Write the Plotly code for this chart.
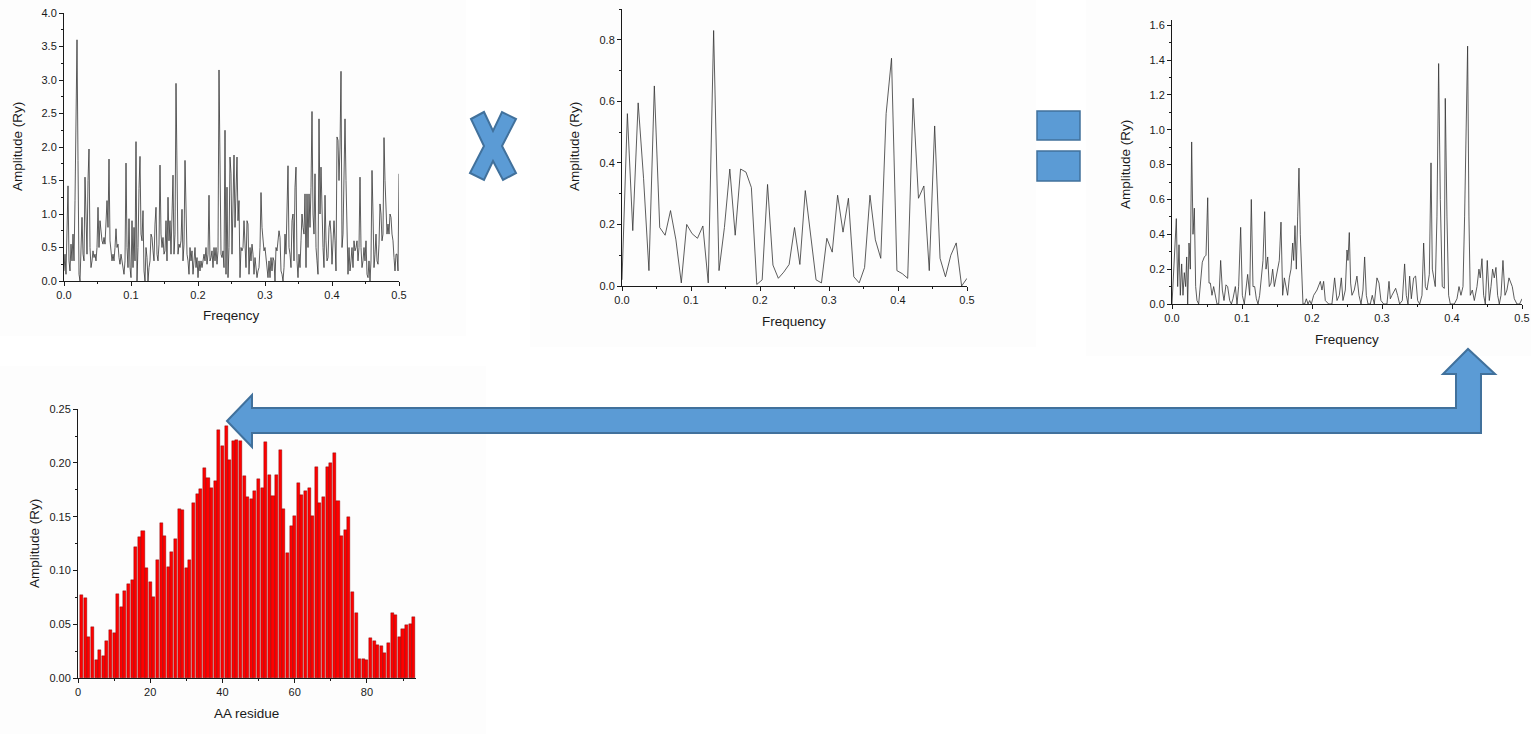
import numpy as np
import plotly.graph_objects as go

W, H = 1531, 734

# ---------------- data ----------------
# Spectrum of the sequence (bin step 1/670)
spec_a_step = 1 / 670
spec_a = [
    0.15, 0.4, 0.1, 0.6, 1.42, 0.3, 0.15, 0.55, 0.3, 0.7,
    0.3, 1.2, 2.4, 3.6, 1.8, 0.1, 0.0, 0.7, 0.95, 0.4,
    0.3, 1.55, 1.1, 0.4, 1.5, 1.97, 0.5, 0.2, 0.3, 0.45,
    0.35, 0.4, 0.3, 0.5, 1.1, 0.5, 0.9, 0.7, 0.6, 0.55,
    0.65, 0.55, 0.9, 1.2, 0.8, 1.82, 0.6, 0.45, 0.3, 0.4,
    0.3, 0.5, 0.78, 0.5, 0.55, 0.35, 0.25, 0.4, 0.3, 0.15,
    0.1, 0.3, 1.76, 0.5, 0.2, 0.93, 0.2, 0.05, 0.9, 0.2,
    0.8, 0.3, 2.08, 0.0, 0.5, 1.38, 1.86, 0.7, 0.6, 1.05,
    0.15, 0.0, 0.5, 0.35, 0.0, 0.2, 0.3, 0.7, 0.65, 0.45,
    0.3, 0.85, 1.1, 0.4, 0.3, 0.55, 1.73, 0.7, 0.5, 0.65,
    0.4, 0.45, 0.9, 0.3, 1.25, 0.6, 0.9, 0.4, 1.2, 1.58,
    0.4, 0.7, 2.95, 2.0, 0.4, 0.55, 0.5, 0.6, 1.07, 0.3,
    0.55, 1.8, 0.7, 0.4, 0.3, 0.1, 0.5, 0.3, 0.45, 0.1,
    0.3, 0.5, 0.2, 0.35, 0.05, 0.3, 0.15, 0.3, 0.2, 0.35,
    0.4, 0.3, 0.5, 0.25, 0.4, 1.28, 0.3, 0.35, 0.45, 0.2,
    0.5, 0.3, 0.5, 0.25, 0.45, 3.15, 1.2, 0.4, 0.35, 0.45,
    0.2, 2.25, 0.1, 1.4, 0.05, 0.5, 1.85, 1.6, 0.4, 1.5,
    1.88, 0.8, 1.2, 1.85, 0.9, 1.2,
    0.05, 0.5, 0.45, 0.5, 0.9, 0.5, 0.2, 0.9, 0.85, 0.1,
    0.5, 0.3, 0.55, 0.4, 0.1, 0.35, 0.15, 0.05, 0.15, 0.2,
    0.5, 1.32, 0.8, 0.6, 0.45, 0.5, 0.3, 0.1, 0.05, 0.3,
    0.05, 0.35, 0.15, 0.35, 0.3, 0.0, 0.5, 0.45, 0.6, 0.75,
    0.65, 0.15, 0.1, 0.0, 0.2, 0.7, 0.4, 0.9, 1.72, 0.5,
    0.4, 0.2, 0.9, 1.0, 0.3, 1.4, 1.7, 0.3, 0.05, 0.4,
    0.2, 0.6, 1.0, 0.8, 0.7, 1.3, 0.2, 1.3, 0.5, 1.3,
    0.8, 1.4, 2.53, 1.0, 0.7, 1.6, 0.5, 0.3, 0.1, 2.42,
    1.0, 1.7, 0.9, 0.5, 0.2, 1.28, 0.6, 0.3, 0.35, 0.8,
    0.9, 0.7, 0.25, 0.5, 0.9, 0.6, 0.15, 2.15, 2.1, 1.5,
    2.0, 3.13, 0.5, 0.7, 1.5, 2.42, 1.5, 0.5, 0.1, 0.5,
    0.15, 0.3, 0.5, 0.2, 0.6, 0.45, 0.5, 0.6, 0.3, 0.5,
    1.55, 0.5, 0.2, 0.3, 0.5, 0.3, 0.6, 0.1, 0.05, 0.3,
    0.0, 0.3, 1.65, 1.0, 0.2, 0.4, 0.7, 0.3, 0.25, 0.55,
    1.15, 1.0, 0.6, 0.7, 2.14, 1.5, 0.9, 0.7, 0.85, 0.7,
    1.0, 0.95, 0.7, 0.6, 0.35, 0.15, 0.4, 0.4, 0.15, 1.6,
]

# Spectrum of the second profile (bin step 1/128)
spec_b_step = 1 / 128
spec_b = [
    0.02, 0.56, 0.18, 0.595, 0.35, 0.05, 0.65, 0.19, 0.165, 0.245,
    0.15, 0.01, 0.20, 0.17, 0.155, 0.195, 0.01, 0.83, 0.05, 0.19,
    0.38, 0.165, 0.38, 0.37, 0.32, 0.005, 0.02, 0.33, 0.068, 0.025,
    0.045, 0.07, 0.19, 0.07, 0.31, 0.17, 0.02, 0.01, 0.155, 0.11,
    0.295, 0.175, 0.285, 0.03, 0.01, 0.06, 0.295, 0.15, 0.09, 0.56,
    0.74, 0.05, 0.04, 0.025, 0.61, 0.285, 0.325, 0.05, 0.52, 0.09,
    0.03, 0.10, 0.14, 0.0, 0.025,
]

# Cross-spectrum (product)
spec_c_freq = [
    0.0, 0.0062, 0.0081, 0.0100, 0.0119, 0.0138, 0.0157, 0.0176, 0.0195, 0.0210,
    0.0224, 0.0243, 0.0262, 0.0281, 0.0300, 0.0319, 0.0338, 0.0357, 0.0381, 0.0405,
    0.0433, 0.0462, 0.0486, 0.0510, 0.0529, 0.0548, 0.0571, 0.0595, 0.0619, 0.0643,
    0.0667, 0.0695, 0.0719, 0.0743, 0.0771, 0.0795, 0.0824, 0.0848, 0.0871, 0.0905,
    0.0929, 0.0952, 0.0981, 0.1005, 0.1033, 0.1057, 0.1081, 0.1110, 0.1133, 0.1157,
    0.1181, 0.1205, 0.1229, 0.1252, 0.1281, 0.1300, 0.1324, 0.1343, 0.1367, 0.1390,
    0.1414, 0.1438, 0.1462, 0.1486, 0.1510, 0.1533, 0.1557, 0.1581, 0.1605, 0.1629,
    0.1652, 0.1676, 0.1700, 0.1724, 0.1738, 0.1757, 0.1776, 0.1795, 0.1814, 0.1833,
    0.1852, 0.1871, 0.1895, 0.1919, 0.1943, 0.1967, 0.1990, 0.2024, 0.2071, 0.2119,
    0.2142, 0.2166, 0.2190, 0.2238, 0.2285, 0.2323, 0.2357, 0.2390, 0.2419, 0.2442,
    0.2476, 0.2500, 0.2514, 0.2533, 0.2552, 0.2571, 0.2604, 0.2642, 0.2671, 0.2700,
    0.2728, 0.2752, 0.2776, 0.2800, 0.2833, 0.2861, 0.2890, 0.2928, 0.2957, 0.2985,
    0.3023, 0.3071, 0.3100, 0.3119, 0.3142, 0.3166, 0.3195, 0.3223, 0.3252, 0.3290,
    0.3323, 0.3347, 0.3371, 0.3395, 0.3419, 0.3452, 0.3480, 0.3509, 0.3538, 0.3571,
    0.3595, 0.3619, 0.3642, 0.3676, 0.3700, 0.3719, 0.3738, 0.3761, 0.3785, 0.3809,
    0.3833, 0.3861, 0.3890, 0.3904, 0.3928, 0.3952, 0.3976, 0.4000, 0.4033, 0.4071,
    0.4100, 0.4128, 0.4157, 0.4180, 0.4199, 0.4223, 0.4242, 0.4261, 0.4290, 0.4319,
    0.4357, 0.4385, 0.4404, 0.4428, 0.4452, 0.4476, 0.4504, 0.4533, 0.4557, 0.4580,
    0.4604, 0.4628, 0.4652, 0.4676, 0.4700, 0.4728, 0.4757, 0.4785, 0.4814, 0.4861,
    0.4890, 0.4928, 0.4966, 0.5000,
]
spec_c = [
    0.0, 0.49, 0.1, 0.34, 0.05, 0.23, 0.05, 0.18, 0.1, 0.27,
    0.0, 0.35, 0.2, 0.93, 0.4, 0.55, 0.1, 0.02, 0.0, 0.1,
    0.24, 0.27, 0.28, 0.61, 0.12, 0.12, 0.05, 0.1, 0.05, 0.0,
    0.0, 0.25, 0.08, 0.02, 0.11, 0.1, 0.02, 0.0, 0.03, 0.1,
    0.0, 0.1, 0.44, 0.05, 0.0, 0.1, 0.17, 0.05, 0.6, 0.1,
    0.1, 0.03, 0.0, 0.05, 0.2, 0.25, 0.53, 0.2, 0.27, 0.1,
    0.12, 0.2, 0.1, 0.15, 0.2, 0.25, 0.47, 0.05, 0.15, 0.1,
    0.05, 0.15, 0.2, 0.35, 0.25, 0.45, 0.2, 0.5, 0.78, 0.4,
    0.15, 0.0, 0.0, 0.03, 0.0, 0.02, 0.0, 0.05, 0.08, 0.13,
    0.08, 0.13, 0.02, 0.0, 0.0, 0.15, 0.02, 0.05, 0.15, 0.02,
    0.08, 0.31, 0.25, 0.41, 0.12, 0.05, 0.08, 0.16, 0.05, 0.0,
    0.08, 0.27, 0.05, 0.0, 0.0, 0.05, 0.0, 0.15, 0.12, 0.02,
    0.0, 0.0, 0.13, 0.03, 0.05, 0.07, 0.09, 0.05, 0.0, 0.02,
    0.23, 0.05, 0.0, 0.16, 0.03, 0.15, 0.16, 0.02, 0.0, 0.05,
    0.35, 0.1, 0.08, 0.17, 0.81, 0.2, 0.15, 0.1, 0.5, 1.38,
    0.6, 0.1, 0.09, 1.18, 0.5, 0.05, 0.0, 0.0, 0.0, 0.03,
    0.1, 0.05, 0.1, 0.5, 1.0, 1.48, 0.5, 0.05, 0.08, 0.02,
    0.1, 0.2, 0.15, 0.26, 0.05, 0.0, 0.25, 0.02, 0.1, 0.2,
    0.15, 0.21, 0.05, 0.0, 0.05, 0.25, 0.05, 0.08, 0.15, 0.1,
    0.03, 0.0, 0.0, 0.03,
]

# Amplitude per amino-acid residue
residues = list(range(1, 94))
residue_amp = [
    0.077, 0.074, 0.038, 0.047, 0.017, 0.026, 0.020, 0.034, 0.045, 0.042,
    0.078, 0.066, 0.081, 0.087, 0.091, 0.122, 0.131, 0.137, 0.102, 0.089,
    0.075, 0.110, 0.144, 0.132, 0.103, 0.117, 0.129, 0.157, 0.156, 0.102,
    0.110, 0.163, 0.171, 0.176, 0.195, 0.186, 0.177, 0.183, 0.231, 0.216,
    0.234, 0.203, 0.220, 0.221, 0.220, 0.188, 0.168, 0.166, 0.174, 0.185,
    0.177, 0.219, 0.189, 0.169, 0.189, 0.212, 0.157, 0.116, 0.141, 0.151,
    0.181, 0.170, 0.174, 0.177, 0.151, 0.196, 0.163, 0.168, 0.196, 0.200,
    0.209, 0.165, 0.132, 0.138, 0.150, 0.080, 0.060, 0.018, 0.018, 0.017,
    0.037, 0.034, 0.031, 0.030, 0.023, 0.033, 0.060, 0.059, 0.038, 0.046,
    0.049, 0.050, 0.057,
]

# ---------------- layout helpers ----------------
FONT = "Arial, 'Liberation Sans', sans-serif"
INK = "#1a1a1a"
BLUE = "#5b9bd5"
BLUE_EDGE = "#41719c"


def px(x):
    """Pixel x -> paper fraction."""
    return x / W


def py(y):
    """Pixel y (from top) -> paper fraction."""
    return 1 - y / H


def axis(domain, rng, dtick, minor_dtick, fmt, anchor):
    return dict(
        domain=domain, range=rng, anchor=anchor,
        showline=True, linecolor=INK, linewidth=1,
        ticks="outside", ticklen=4, tickwidth=1, tickcolor=INK,
        tickmode="linear", tick0=0, dtick=dtick, tickformat=fmt,
        minor=dict(ticks="outside", ticklen=2, tickwidth=1, tickcolor=INK,
                   dtick=minor_dtick, tick0=0, showgrid=False),
        showgrid=False, zeroline=False, ticklabeloverflow="allow",
        tickfont=dict(family=FONT, size=11, color=INK),
    )


fig = go.Figure()

line_style = dict(color="#333333", width=0.8)

fig.add_trace(go.Scatter(
    x=np.arange(len(spec_a)) * spec_a_step, y=spec_a, mode="lines",
    line=line_style, xaxis="x", yaxis="y", showlegend=False))
fig.add_trace(go.Scatter(
    x=np.arange(len(spec_b)) * spec_b_step, y=spec_b, mode="lines",
    line=line_style, xaxis="x2", yaxis="y2", showlegend=False))
fig.add_trace(go.Scatter(
    x=spec_c_freq, y=spec_c, mode="lines",
    line=line_style, xaxis="x3", yaxis="y3", showlegend=False))
fig.add_trace(go.Bar(
    x=residues, y=residue_amp, width=0.84,
    marker=dict(color="#ff0000", line=dict(color="#700000", width=0.4)),
    xaxis="x4", yaxis="y4", showlegend=False))

# Fixed margins: tick labels near the page edge must not shrink the plots
layout = dict(
    width=W, height=H,
    margin=dict(l=0, r=0, t=0, b=0, autoexpand=False),
    paper_bgcolor="white", plot_bgcolor="rgba(0,0,0,0)",
    xaxis=axis([px(64), px(399)], [0, 0.5], 0.1, 0.05, ".1f", "y"),
    yaxis=axis([py(281), py(13)], [0, 4.0001], 0.5, 0.25, ".1f", "x"),
    xaxis2=axis([px(622), px(967)], [0, 0.5], 0.1, 0.05, ".1f", "y2"),
    yaxis2=axis([py(286), py(9)], [0, 0.9], 0.2, 0.1, ".1f", "x2"),
    xaxis3=axis([px(1172), px(1522)], [0, 0.5], 0.1, 0.05, ".1f", "y3"),
    yaxis3=axis([py(304), py(20)], [0, 1.63], 0.2, 0.1, ".1f", "x3"),
    xaxis4=axis([px(78), px(416)], [0, 93.6], 20, 10, "d", "y4"),
    yaxis4=axis([py(678), py(409)], [0, 0.2501], 0.05, 0.025, ".2f", "x4"),
    bargap=0,
)
fig.update_layout(**layout)

# Axis titles
title_font = dict(family=FONT, size=13.5, color=INK)
titles = [
    ("Amplitude (Ry)", 17, 147, -90),
    ("Freqency", 231, 315, 0),
    ("Amplitude (Ry)", 574, 147, -90),
    ("Frequency", 794, 321, 0),
    ("Amplitude (Ry)", 1125, 165, -90),
    ("Frequency", 1347, 339, 0),
    ("Amplitude (Ry)", 34, 544, -90),
    ("AA residue", 246, 713, 0),
]
for text, x, y, ang in titles:
    fig.add_annotation(text=text, x=px(x), y=py(y), xref="paper", yref="paper",
                       showarrow=False, textangle=ang, font=title_font,
                       xanchor="center", yanchor="middle")


def path(points):
    s = "M " + " L ".join(f"{px(x):.5f},{py(y):.5f}" for x, y in points)
    return s + " Z"


# Faint panel backgrounds
for x0, y0, x1, y1 in [(0, 0, 466, 336), (530, 0, 1036, 347),
                       (1086, 0, 1531, 356), (0, 366, 486, 734)]:
    fig.add_shape(type="rect", xref="paper", yref="paper",
                  x0=px(x0), x1=px(x1), y0=py(y1), y1=py(y0),
                  fillcolor="#fdfdfd", line=dict(width=0), layer="below")

# Multiplication sign
cross = [(471, 119), (484, 112), (493, 131), (502, 112), (516, 119), (502, 146),
         (516, 173), (503, 180), (493, 161), (484, 180), (470, 173), (484, 146)]
fig.add_shape(type="path", path=path(cross), xref="paper", yref="paper",
              fillcolor=BLUE, line=dict(color=BLUE_EDGE, width=2), layer="above")

# Equals sign
for y0, y1 in [(111, 140), (151, 181)]:
    fig.add_shape(type="rect", xref="paper", yref="paper",
                  x0=px(1037), x1=px(1080), y0=py(y1), y1=py(y0),
                  fillcolor=BLUE, line=dict(color=BLUE_EDGE, width=1.5),
                  layer="above")

# Return arrow from the product spectrum back to the residue profile
arrow = [(227, 421), (252, 395), (252, 408), (1456, 408), (1456, 374),
         (1443, 374), (1468, 349), (1495, 374), (1481, 374), (1481, 433),
         (252, 433), (252, 447)]
fig.add_shape(type="path", path=path(arrow), xref="paper", yref="paper",
              fillcolor=BLUE, line=dict(color=BLUE_EDGE, width=2), layer="above")

fig.write_html("out.html")
